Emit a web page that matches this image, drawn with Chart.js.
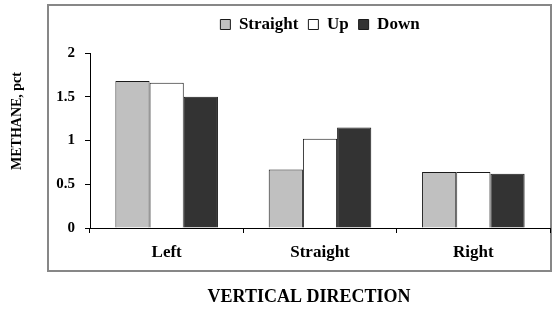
<!DOCTYPE html>
<html><head><meta charset="utf-8">
<script src="https://cdn.jsdelivr.net/npm/chart.js@4/dist/chart.umd.min.js"></script>
<style>html,body{margin:0;padding:0;background:#fff;}canvas{display:block;}</style>
</head><body>
<canvas id="c" width="552" height="309"></canvas>
<script>
const categories = ["Left", "Straight", "Right"];
const seriesNames = ["Straight", "Up", "Down"];
const straightValues = [1.68, 0.67, 0.64];
const upValues = [1.66, 1.02, 0.64];
const downValues = [1.50, 1.15, 0.62];
const yTicks = [0, 0.5, 1, 1.5, 2];
const xTitle = "VERTICAL DIRECTION";
const yTitle = "METHANE, pct";

const SERIF = "'Liberation Serif', 'Times New Roman', serif";

const framePlugin = {
  id: 'frame',
  beforeUpdate(chart) {
    const lg = chart.legend;
    if (lg && !lg._patched) {
      const orig = lg.fit;
      lg.fit = function () { orig.call(this); this.height += 10; };
      lg._patched = true;
    }
  },
  afterLayout(chart) {
    const lg = chart.legend;
    if (lg) { lg.left = chart.chartArea.left; lg.right = chart.chartArea.right; }
  },
  beforeDraw(chart) {
    const ctx = chart.ctx;
    ctx.save();
    ctx.fillStyle = '#fff';
    ctx.fillRect(0, 0, chart.width, chart.height);
    ctx.strokeStyle = '#878787';
    ctx.lineWidth = 2;
    ctx.strokeRect(48, 5, 503, 266);
    ctx.restore();
  },
  afterDraw(chart) {
    const ctx = chart.ctx;
    ctx.save();
    ctx.fillStyle = '#000';
    ctx.textAlign = 'center';
    ctx.textBaseline = 'middle';
    ctx.font = "bold 18px " + SERIF;
    ctx.fillText(xTitle, 309, 297);
    ctx.translate(17.5, 121);
    ctx.rotate(-Math.PI / 2);
    ctx.font = "bold 14px " + SERIF;
    ctx.fillText(yTitle, 0, 0);
    ctx.restore();
  }
};

new Chart(document.getElementById('c'), {
  type: 'bar',
  data: {
    labels: categories,
    datasets: [
      { label: seriesNames[0], data: straightValues, backgroundColor: '#c0c0c0', borderColor: '#1a1a1a', borderWidth: 1 },
      { label: seriesNames[1], data: upValues, backgroundColor: '#ffffff', borderColor: '#1a1a1a', borderWidth: 1 },
      { label: seriesNames[2], data: downValues, backgroundColor: '#333333', borderColor: '#1a1a1a', borderWidth: 1 }
    ]
  },
  options: {
    responsive: false,
    animation: false,
    devicePixelRatio: 1,
    layout: { padding: { left: 0, right: 2, top: 6, bottom: 0 } },
    datasets: { bar: { categoryPercentage: 0.669, barPercentage: 1 } },
    plugins: {
      legend: {
        position: 'top',
        labels: {
          boxWidth: 10, boxHeight: 10, padding: 10,
          color: '#000',
          font: { family: SERIF, size: 17, weight: 'bold' }
        }
      },
      tooltip: { enabled: false }
    },
    scales: {
      x: {
        afterFit(s) { s.height = 81; },
        grid: { drawOnChartArea: false, drawTicks: true, tickLength: 5, color: '#000', offset: true },
        border: { color: '#000', width: 1 },
        ticks: { color: '#000', padding: 9, font: { family: SERIF, size: 17, weight: 'bold' } },
        title: { display: false }
      },
      y: {
        min: 0, max: 2,
        afterFit(s) { s.width = 90; },
        afterBuildTicks(s) { s.ticks = yTicks.map(v => ({ value: v })); },
        grid: { drawOnChartArea: false, drawTicks: true, tickLength: 5, color: '#000' },
        border: { color: '#000', width: 1 },
        ticks: { color: '#000', padding: 10, font: { family: SERIF, size: 15, weight: 'bold' }, callback: v => String(v) },
        title: { display: false }
      }
    }
  },
  plugins: [framePlugin]
});
</script>
</body></html>
